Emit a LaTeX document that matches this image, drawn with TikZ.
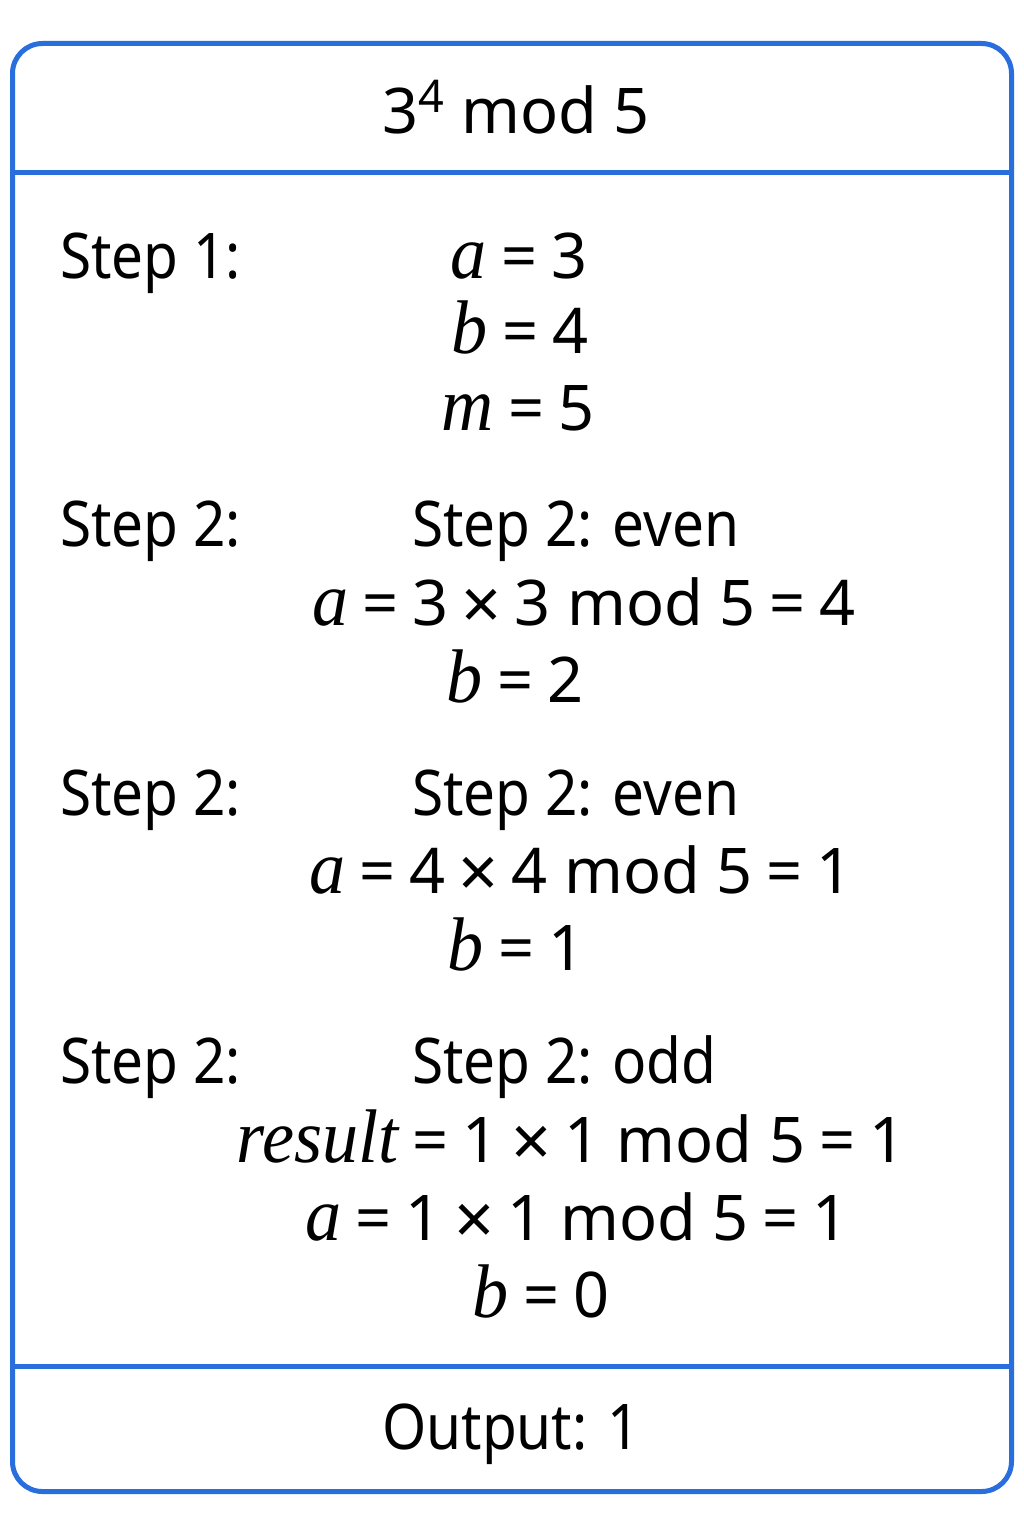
\documentclass[tikz,border=0pt]{standalone}
\usepackage{fontspec}
\setmainfont{Noto Sans}[FakeStretch=0.9]
\newfontfamily\wide{Noto Sans}
\newfontfamily\mifont{Liberation Serif}[FakeStretch=0.95]
\newcommand\vv[1]{{\mifont\itshape\fontsize{76}{80}\selectfont #1}}
\newcommand\eq{\hspace{14pt}=\hspace{14pt}}
\newcommand\tms{\hspace{13pt}\raisebox{-4pt}{\fontsize{70}{76}\selectfont ×}\hspace{13pt}}
\definecolor{frameblue}{RGB}{40,110,220}
\begin{document}
\begin{tikzpicture}[x=1pt,y=-1pt,
  txt/.style={inner sep=0pt,font=\fontsize{63}{76}\selectfont,anchor=base},
  mth/.style={txt,font=\wide\fontsize{63}{76}\selectfont},
  lft/.style={txt,anchor=base west},
  frame/.style={draw=frameblue,line width=5pt}]
\useasboundingbox[fill=white] (0,0) rectangle (1024,1536);
\draw[frame,rounded corners=30pt] (12.5,43.5) rectangle (1011.5,1491.5);
\coordinate (l1) at (12.5,172);
\coordinate (r1) at (1011.5,172);
\coordinate (l2) at (12.5,1366);
\coordinate (r2) at (1011.5,1366);
\draw[frame] (l1) -- (r1);
\draw[frame] (l2) -- (r2);
\node[mth] (title) at (516,134) {3\raisebox{21pt}{\fontsize{45}{48}\selectfont 4}\hspace{18pt}mod 5};
\node[lft] (s1) at (60,278) {Step 1:};
\node[mth] (a1) at (519,278) {\vv{a}\eq3};
\node[mth] (b1) at (520,353) {\vv{b}\eq4};
\node[mth] (m1) at (518,430) {\vv{m}\eq5};
\node[lft] (s2) at (60,546) {Step 2:};
\node[lft] (e2) at (412,546) {Step 2: even};
\node[mth] (a2) at (584,625) {\vv{a}\eq3\tms3 mod 5\eq4};
\node[mth] (b2) at (515,702) {\vv{b}\eq2};
\node[lft] (s3) at (60,815) {Step 2:};
\node[lft] (e3) at (412,815) {Step 2: even};
\node[mth] (a3) at (581,893) {\vv{a}\eq4\tms4 mod 5\eq1};
\node[mth] (b3) at (516,970) {\vv{b}\eq1};
\node[lft] (s4) at (60,1083) {Step 2:};
\node[lft] (e4) at (412,1083) {Step 2: odd};
\node[mth] (r4) at (571,1162) {\vv{result}\eq1\tms1 mod 5\eq1};
\node[mth] (a4) at (577,1240) {\vv{a}\eq1\tms1 mod 5\eq1};
\node[mth] (b4) at (541,1317) {\vv{b}\eq0};
\node[txt] (out) at (511,1449) {Output: 1};
\end{tikzpicture}
\end{document}
